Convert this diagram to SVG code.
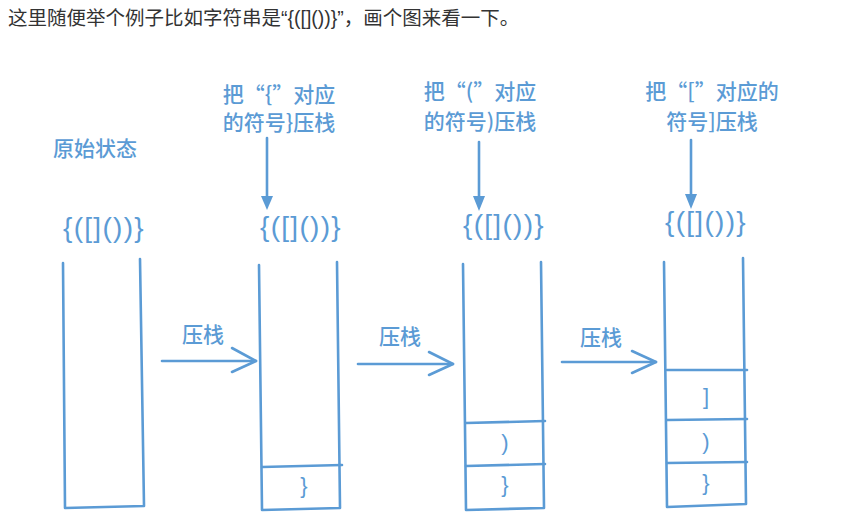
<svg xmlns="http://www.w3.org/2000/svg" width="845" height="522" viewBox="0 0 845 522">
<style>
.ln{fill:none;stroke:#5b9bd5;stroke-width:2.6;stroke-linecap:round;stroke-linejoin:round}
.cn{font-family:"Noto Sans CJK SC","Noto Sans",sans-serif;font-size:21px;font-weight:500;fill:#5b9bd5;text-anchor:middle}
.br{font-family:"Liberation Sans","DejaVu Sans",sans-serif;font-size:28px;letter-spacing:1.3px;fill:#5b9bd5}
.cell{font-family:"Liberation Sans","DejaVu Sans",sans-serif;font-size:22px;fill:#5b9bd5;text-anchor:middle}
.hd{font-family:"Noto Sans CJK SC","Noto Sans",sans-serif;font-size:19.5px;fill:#333333}
.lat{font-family:"Liberation Sans",sans-serif}
.tri{fill:#5b9bd5}
</style>
<rect width="845" height="522" fill="#ffffff"/>
<text class="hd" x="8" y="25">这里随便举个例子比如字符串是<tspan class="lat">“{([]())}”</tspan>，画个图来看一下。</text>

<g id="stack1">
<text class="cn" x="95" y="156">原始状态</text>
<text class="br" x="63" y="237">{([]())}</text>
<path class="ln" d="M63,263 L65,508 L144,506 L140,259"/>
</g>

<g id="stack2">
<text class="cn" x="279" y="102">把“{”对应</text>
<text class="cn" x="279" y="130">的符号}压栈</text>
<text class="br" x="260" y="236">{([]())}</text>
<path class="ln" d="M259,265 L262,510 L340,508 L337,262"/>
<path class="ln" d="M262,467 L342,465"/>
<text class="cell" x="304" y="493">}</text>
</g>

<g id="stack3">
<text class="cn" x="480" y="99">把“(”对应</text>
<text class="cn" x="480" y="129">的符号)压栈</text>
<text class="br" x="463" y="234">{([]())}</text>
<path class="ln" d="M463,264 L466,510 L544,508 L541,262"/>
<path class="ln" d="M466,423 L545,421"/>
<path class="ln" d="M466,466 L545,464"/>
<text class="cell" x="505" y="450">)</text>
<text class="cell" x="505" y="492">}</text>
</g>

<g id="stack4">
<text class="cn" x="712" y="99">把“[”对应的</text>
<text class="cn" x="712" y="129">符号]压栈</text>
<text class="br" x="665" y="231">{([]())}</text>
<path class="ln" d="M664,262 L667,507 L746,504 L743,258"/>
<path class="ln" d="M667,370 L747,370"/>
<path class="ln" d="M667,420 L747,419"/>
<path class="ln" d="M667,463 L747,462"/>
<text class="cell" x="706" y="404">]</text>
<text class="cell" x="706" y="449">)</text>
<text class="cell" x="706" y="490">}</text>
</g>

<g id="connectors">
<path class="ln" d="M267,138 L267,198"/>
<polygon class="tri" points="261,196 273,196 267,210"/>
<path class="ln" d="M479,142 L479,198"/>
<polygon class="tri" points="473,196 485,196 479,211"/>
<path class="ln" d="M691,140 L691,196"/>
<polygon class="tri" points="685,194 697,194 691,209"/>

<path class="ln" d="M162,361 L256,361"/>
<path class="ln" d="M232,348 L256,361 L232,372"/>
<text class="cn" x="203" y="342">压栈</text>

<path class="ln" d="M358,364 L453,364"/>
<path class="ln" d="M429,352 L453,364 L429,375"/>
<text class="cn" x="400" y="344">压栈</text>

<path class="ln" d="M562,362 L656,362"/>
<path class="ln" d="M632,351 L656,362 L632,373"/>
<text class="cn" x="601" y="345">压栈</text>
</g>
</svg>
